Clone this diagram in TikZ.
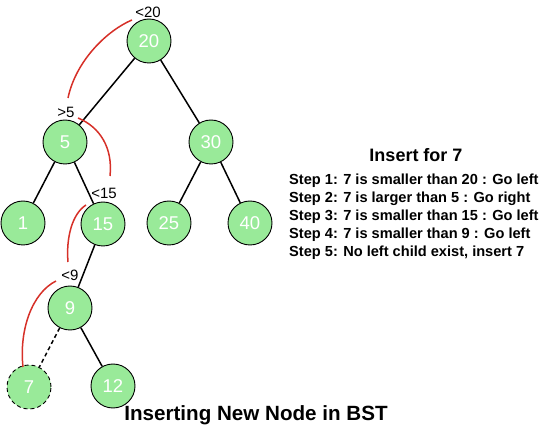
\documentclass[tikz,border=0pt]{standalone}
\usepackage{fontspec}
\setmainfont{Liberation Sans}
\definecolor{nodegreen}{RGB}{153,234,153}
\definecolor{arcred}{RGB}{214,48,40}
\begin{document}
\begin{tikzpicture}[x=1pt,y=-1pt,
  bst/.style={circle,draw=black,fill=nodegreen,line width=0.9pt,minimum size=44pt,inner sep=0pt,text=white,font=\fontsize{18.5}{18.5}\selectfont},
  newbst/.style={bst,dash pattern=on 4pt off 3pt},
  edge/.style={line width=1.5pt},
  arc/.style={draw=arcred,line width=1.5pt},
  lbl/.style={font=\fontsize{15}{15}\selectfont,inner sep=0pt},
  steptext/.style={font=\bfseries\fontsize{14.6}{18}\selectfont,align=left,anchor=north west,inner sep=0pt}
]
\useasboundingbox (0,0) rectangle (550,433);
\node[bst] (n20) at (149,41) {20};
\node[bst] (n5) at (65,142) {5};
\node[bst] (n30) at (211,142) {30};
\node[bst] (n1) at (23,223) {1};
\node[bst] (n15) at (103,224) {15};
\node[bst] (n25) at (169,223) {25};
\node[bst] (n40) at (250,223) {40};
\node[bst] (n9) at (70,308) {9};
\node[newbst] (n7) at (29,387) {7};
\node[bst] (n12) at (113,386) {12};
\draw[edge] (n20) -- (n5);
\draw[edge] (n20) -- (n30);
\draw[edge] (n5) -- (n1);
\draw[edge] (n5) -- (n15);
\draw[edge] (n30) -- (n25);
\draw[edge] (n30) -- (n40);
\draw[edge] (n15) -- (n9);
\draw[edge] (n9) -- (n12);
\draw[edge,dash pattern=on 4pt off 3pt] (n9) -- (n7);
\node[lbl] (l20) at (148,12) {<20};
\node[lbl] (l5) at (66,112) {>5};
\node[lbl] (l15) at (104,193) {<15};
\node[lbl] (l9) at (70,275) {<9};
\coordinate (a1s) at (132,20); \coordinate (a1e) at (68,98);
\coordinate (a2s) at (78,118); \coordinate (a2e) at (110,176);
\coordinate (a3s) at (86,205); \coordinate (a3e) at (68,262);
\coordinate (a4s) at (56,281); \coordinate (a4e) at (23,367);
\draw[arc] (a1s) .. controls (108,30) and (76,60) .. (a1e);
\draw[arc] (a2s) .. controls (100,127) and (113,148) .. (a2e);
\draw[arc] (a3s) .. controls (72,214) and (66,238) .. (a3e);
\draw[arc] (a4s) .. controls (32,293) and (19,330) .. (a4e);
\node[font=\bfseries\fontsize{18}{18}\selectfont] (title) at (416,155) {Insert for 7};
\node[steptext] (steps) at (289,174) {Step 1: 7 is smaller than 20 : Go left\\Step 2: 7 is larger than 5 : Go right\\Step 3: 7 is smaller than 15 : Go left\\Step 4: 7 is smaller than 9 : Go left\\Step 5: No left child exist, insert 7};
\node[font=\bfseries\fontsize{20.6}{20.6}\selectfont] (caption) at (256,415) {Inserting New Node in BST};
\end{tikzpicture}
\end{document}
